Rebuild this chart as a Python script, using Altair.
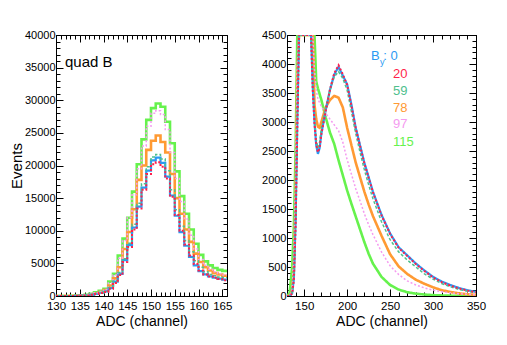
import altair as alt
import pandas as pd

# ---------------- data ----------------
names = ["0", "20", "59", "78", "97", "115"]
colors = ["#2b9af3", "#ff1f4b", "#4fc08d", "#ff9a33", "#f59af0", "#66f24d"]
dashes = [[1, 0], [2, 2], [3, 2], [1, 0], [2, 2], [1, 0]]
widths = [2.2, 2, 1.5, 2.6, 1.5, 2.6]
draw_order = ["115", "78", "0", "97", "59", "20"]

# left panel: quad B, 1-channel bins starting at 130 .. 165
left_bins = list(range(130, 166))
left_vals = {
    "0": [0, 0, 0, 0, 20, 50, 100, 200, 330, 500,
          700, 1200, 2200, 3400, 5500, 7800, 10500, 13700, 16600, 19200,
          20800, 21200, 20400, 18300, 15400, 12300, 9800, 7700, 6000, 4700,
          3800, 3300, 3000, 2800, 2650, 2500],
    "20": [0, 0, 0, 0, 10, 40, 90, 180, 300, 450,
           600, 1100, 2000, 3200, 5200, 7500, 10200, 13400, 16300, 18700,
           20200, 20500, 19800, 18000, 15200, 12400, 10000, 7900, 6200, 4900,
           3900, 3300, 3000, 2800, 2600, 2400],
    "59": [0, 0, 0, 0, 20, 60, 110, 220, 360, 520,
           700, 1300, 2300, 3600, 5700, 8100, 11000, 14200, 17200, 19800,
           21300, 21700, 21000, 19200, 16300, 13200, 10700, 8500, 6800, 5400,
           4400, 3700, 3300, 3100, 2900, 2800],
    "78": [0, 0, 0, 10, 30, 60, 120, 220, 380, 600,
           900, 1600, 2700, 4400, 7200, 9800, 13300, 17800, 20000, 22400,
           23800, 24600, 23600, 22000, 18700, 15000, 12600, 10200, 8300, 6500,
           5200, 4400, 3900, 3500, 3300, 3100],
    "97": [0, 0, 0, 10, 30, 80, 150, 280, 480, 700,
           1000, 2000, 3200, 5800, 8500, 12000, 15500, 19500, 23000, 26000,
           28000, 28400, 27800, 25500, 22000, 18000, 14500, 11800, 9300, 7200,
           5600, 4700, 4100, 3700, 3400, 3200],
    "115": [0, 0, 0, 20, 50, 100, 180, 320, 550, 800,
            1100, 2200, 3400, 6200, 8800, 12000, 16000, 20200, 24000, 27000,
            28800, 29500, 29000, 26700, 23400, 19100, 15300, 12600, 10200, 8000,
            6300, 5300, 4700, 4300, 4000, 3850],
}

# right panel
right_x = [130, 133, 136, 138, 140, 142, 144, 146, 150, 155,
           158, 160, 162, 164, 166, 168, 170, 175, 180, 185,
           190, 195, 200, 205, 210, 215, 220, 225, 230, 240,
           250, 260, 270, 280, 290, 300, 310, 320, 330, 340, 350]
right_vals = {
    "0": [0, 0, 50, 300, 1300, 3000, 6000, 15000, 20000, 18000,
          9000, 3600, 3000, 2600, 2450, 2550, 2800, 3200, 3550, 3820,
          3950, 3800, 3650, 3300, 2900, 2600, 2300, 2050, 1800, 1400,
          1080, 840, 700, 560, 440, 330, 250, 190, 140, 100, 70],
    "20": [0, 0, 40, 280, 1200, 2900, 5900, 14800, 19800, 17800,
           8900, 3550, 2980, 2620, 2480, 2560, 2790, 3180, 3560, 3840,
           3980, 3820, 3640, 3280, 2890, 2590, 2290, 2040, 1790, 1390,
           1070, 830, 690, 550, 430, 320, 240, 180, 130, 95, 65],
    "59": [0, 0, 60, 350, 1400, 3200, 6500, 15500, 20500, 18500,
           9500, 3700, 3100, 2700, 2550, 2650, 2900, 3250, 3550, 3780,
           3870, 3750, 3550, 3180, 2800, 2480, 2180, 1920, 1680, 1280,
           970, 760, 620, 500, 380, 290, 215, 160, 115, 80, 55],
    "78": [0, 0, 80, 450, 1700, 3800, 7000, 16000, 22000, 20000,
           12000, 6000, 3300, 3050, 2920, 2900, 3000, 3250, 3380, 3450,
           3420, 3250, 2900, 2600, 2300, 2050, 1800, 1580, 1380, 1040,
           720, 510, 380, 280, 210, 150, 100, 70, 45, 30, 20],
    "97": [0, 0, 120, 700, 2000, 4000, 8000, 17000, 24000, 22000,
           12000, 4800, 3900, 3550, 3400, 3330, 3270, 3150, 3050, 2950,
           2850, 2650, 2350, 2100, 1850, 1640, 1420, 1230, 1060, 760,
           520, 370, 260, 190, 140, 100, 75, 55, 40, 30, 20],
    "115": [0, 50, 500, 1200, 2500, 5000, 9000, 20000, 28000, 28000,
            22000, 15000, 9000, 3700, 3580, 3480, 3380, 3080, 2820, 2620,
            2340, 2080, 1820, 1590, 1370, 1150, 930, 730, 560, 330,
            190, 110, 65, 40, 25, 15, 10, 6, 4, 2, 1],
}

FONT = "Liberation Sans"


def ax(orient, values, size, labels=False, title=None, pad=2, tpad=3, lsize=11.5, tsize=14):
    kw = dict(orient=orient, values=values, tickSize=size, offset=-size,
              domain=False, grid=False, ticks=True, tickColor="black",
              tickWidth=1, labels=labels, title=title)
    if labels:
        kw.update(labelFont=FONT, labelFontSize=lsize, labelColor="black",
                  labelPadding=pad, labelFlush=False, labelOverlap=False,
                  format="d", titleFont=FONT, titleFontSize=tsize,
                  titleFontWeight="normal", titleColor="black", titlePadding=tpad)
    return alt.Axis(**kw)


def panel(xs, vals, xdom, ydom, xmaj, xmin, ymaj, ymin, w, h, interp, ytitle, texts, clamp):
    xsc = alt.Scale(domain=xdom, nice=False, zero=False)
    ysc = alt.Scale(domain=ydom, nice=False, zero=False, clamp=clamp)
    rows = []
    for s in names:
        v = list(vals[s])
        xx = list(xs)
        if interp == "step-after":
            xx = xx + [xdom[1]]
            v = v + [v[-1]]
        for a, b in zip(xx, v):
            rows.append({"x": a, "n": b, "s": s})
    df = pd.DataFrame(rows)
    layers = []
    first = True
    for s in draw_order:
        i = names.index(s)
        base = alt.Chart(df).transform_filter(alt.datum.s == s).mark_line(
            interpolate=interp, clip=True, color=colors[i],
            strokeDash=dashes[i], strokeWidth=widths[i])
        if first:
            enc = base.encode(
                x=alt.X("x:Q", scale=xsc, axis=ax("bottom", xmaj, 7, True, "ADC (channel)", 4, 3)),
                y=alt.Y("n:Q", scale=ysc, axis=ax("left", ymaj, 7, True, ytitle, 1, 0, 11, 15)))
            first = False
        else:
            enc = base.encode(x=alt.X("x:Q", scale=xsc, axis=None),
                              y=alt.Y("n:Q", scale=ysc, axis=None))
        layers.append(enc)
    inv = alt.Chart(df).transform_filter(alt.datum.n <= ydom[1]).mark_point(
        opacity=0, clip=True, size=1)
    layers.append(inv.encode(x=alt.X("x:Q", scale=xsc, axis=ax("top", xmaj, 7)),
                             y=alt.Y("n:Q", scale=ysc, axis=ax("right", ymaj, 7))))
    layers.append(inv.encode(x=alt.X("x:Q", scale=xsc, axis=ax("bottom", xmin, 4)),
                             y=alt.Y("n:Q", scale=ysc, axis=ax("left", ymin, 4))))
    layers.append(inv.encode(x=alt.X("x:Q", scale=xsc, axis=ax("top", xmin, 4)),
                             y=alt.Y("n:Q", scale=ysc, axis=ax("right", ymin, 4))))
    for (t, tx, ty, col, fs) in texts:
        tdf = pd.DataFrame({"x": [tx], "n": [ty], "t": [t]})
        layers.append(alt.Chart(tdf).mark_text(
            align="left", baseline="alphabetic", font=FONT, fontSize=fs, color=col
        ).encode(x=alt.X("x:Q", scale=xsc, axis=None),
                 y=alt.Y("n:Q", scale=ysc, axis=None), text="t:N"))
    return alt.layer(*layers).resolve_axis(x="independent", y="independent").properties(width=w, height=h)


left_texts = [("quad B", 131.9, 35100, "black", 15)]
right_texts = [
    ("B", 227.8, 4074, colors[0], 13),
    ("y", 238.3, 3990, colors[0], 9),
    (": 0", 242.0, 4074, colors[0], 13),
    ("20", 253.4, 3767, colors[1], 13),
    ("59", 253.4, 3474, colors[2], 13),
    ("78", 253.4, 3181, colors[3], 13),
    ("97", 253.4, 2888, colors[4], 13),
    ("115", 253.4, 2578, colors[5], 13),
]

left = panel(left_bins, left_vals, [130, 166], [0, 40000],
             list(range(130, 166, 5)), list(range(130, 167)),
             list(range(0, 40001, 5000)), list(range(0, 40001, 1000)),
             171, 261, "step-after", "Events", left_texts, False)
right = panel(right_x, right_vals, [130, 350], [0, 4500],
              [150, 200, 250, 300, 350], list(range(130, 351, 10)),
              list(range(0, 4501, 500)), list(range(0, 4501, 100)),
              189, 261, "linear", None, right_texts, True)

chart = alt.hconcat(left, right, spacing=28).properties(
    padding={"left": 0, "top": 20, "right": 5, "bottom": 5},
    background="white",
).configure_view(stroke="black", strokeWidth=1)

chart.save("out.html", embed_options={"renderer": "svg", "actions": False})
